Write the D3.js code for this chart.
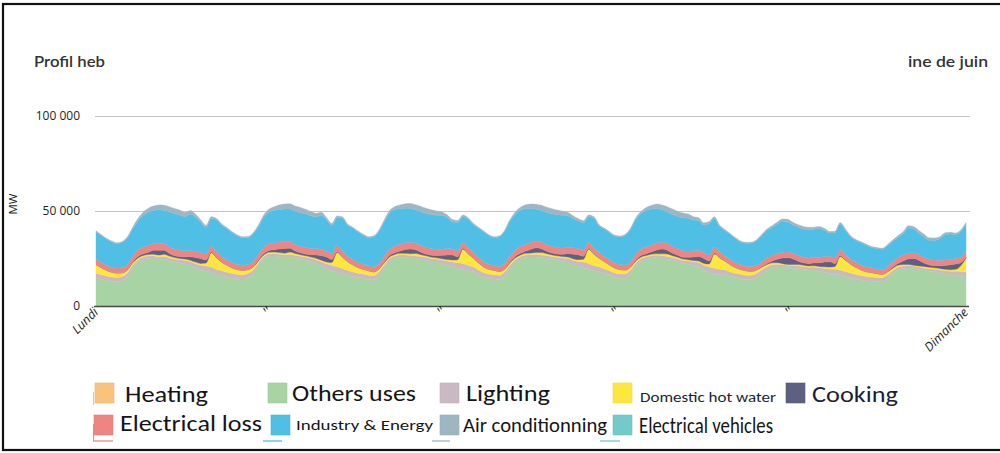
<!DOCTYPE html>
<html><head><meta charset="utf-8">
<script src="https://cdn.jsdelivr.net/npm/d3@7"></script>
<style>body{margin:0;background:#fff;} svg{display:block;}</style>
</head><body><svg id="c" width="1000" height="453"></svg>
<script>
// ---------- DATA (thousands of MW, hourly, Monday 0h -> Sunday 22h) ----------
const others = [
14.6,14.0,13.5,13.0,12.8,13.3,15.5,20.0,23.0,24.5,25.0,25.2,24.5,24.7,24.0,23.3,22.8,22.3,21.5,20.2,19.0,18.3,17.6,16.5,
15.9,15.3,14.8,14.4,14.2,15.0,17.0,21.0,24.5,26.2,26.3,26.0,25.5,25.8,25.3,24.8,24.2,23.4,22.5,21.2,19.8,18.6,17.8,17.0,
16.2,15.5,15.0,14.6,14.0,13.8,16.0,20.0,23.5,25.0,25.6,25.6,25.2,25.0,24.7,24.2,23.5,23.0,22.3,21.6,20.8,20.0,19.5,18.7,
18.0,16.5,15.2,14.6,14.2,14.0,16.0,20.0,23.0,24.8,25.6,25.8,25.8,25.5,25.2,24.7,24.2,23.6,23.2,22.0,21.0,20.3,19.5,18.5,
18.0,17.2,16.3,15.2,14.6,14.8,17.0,21.0,23.5,24.5,25.2,25.4,25.2,24.8,24.2,23.5,22.5,22.0,21.4,20.8,19.0,17.8,17.0,16.6,
16.5,15.6,15.0,14.5,14.0,14.0,15.0,17.0,19.0,20.3,20.7,20.5,20.2,20.0,19.8,19.4,19.0,18.9,18.3,17.8,17.2,16.7,16.3,15.5,
14.8,14.2,13.7,13.3,13.0,12.8,12.8,14.5,17.0,19.0,19.8,20.0,19.8,19.3,18.8,18.3,18.0,17.4,16.8,16.3,16.0,15.6,15.3];
const lighting = [
2.6,2.4,2.3,2.2,2.2,2.2,2.0,1.6,1.4,1.3,1.3,1.3,1.3,1.3,1.3,1.4,1.5,1.7,1.9,2.1,2.4,2.8,2.9,2.8,
2.6,2.4,2.3,2.2,2.2,2.2,2.0,1.6,1.4,1.3,1.3,1.3,1.3,1.3,1.3,1.4,1.5,1.7,1.9,2.1,2.4,2.8,2.9,2.8,
2.6,2.4,2.3,2.2,2.2,2.2,2.0,1.6,1.4,1.3,1.3,1.3,1.3,1.3,1.3,1.4,1.5,1.7,1.9,2.1,2.4,2.8,2.9,2.8,
2.6,2.4,2.3,2.2,2.2,2.2,2.0,1.6,1.4,1.3,1.3,1.3,1.3,1.3,1.3,1.4,1.5,1.7,1.9,2.1,2.4,2.8,2.9,2.8,
2.6,2.4,2.3,2.2,2.2,2.2,2.0,1.6,1.4,1.3,1.3,1.3,1.3,1.3,1.3,1.4,1.5,1.7,1.9,2.1,2.4,2.8,2.9,2.8,
2.6,2.4,2.3,2.2,2.2,2.2,2.1,1.9,1.6,1.4,1.3,1.2,1.2,1.2,1.2,1.3,1.4,1.6,1.8,2.0,2.3,2.6,2.6,2.6,
2.6,2.4,2.3,2.2,2.2,2.2,2.1,1.9,1.6,1.4,1.3,1.2,1.2,1.2,1.2,1.3,1.4,1.6,1.8,2.0,2.3,2.6,2.6];
const hotWater = [
4.6,3.8,3.0,2.6,2.4,2.0,1.5,1.1,0.9,0.8,0.8,0.8,1.0,1.3,1.0,0.8,0.7,0.7,0.7,0.8,1.0,1.5,7.5,6.0,
4.6,3.8,3.0,2.6,2.4,2.0,1.5,1.1,0.9,0.8,0.8,0.8,1.0,1.3,1.0,0.8,0.7,0.7,0.7,0.8,1.0,1.5,7.5,6.0,
4.6,3.8,3.0,2.6,2.4,2.0,1.5,1.1,0.9,0.8,0.8,0.8,1.0,1.3,1.0,0.8,0.7,0.7,0.7,0.8,1.0,1.5,7.5,6.0,
4.6,3.8,3.0,2.6,2.4,2.0,1.5,1.1,0.9,0.8,0.8,0.8,1.0,1.3,1.0,0.8,0.7,0.7,0.7,0.8,1.0,1.5,7.5,6.0,
4.6,3.8,3.0,2.6,2.4,2.0,1.5,1.1,0.9,0.8,0.8,0.8,1.0,1.3,1.0,0.8,0.7,0.7,0.7,0.8,1.0,1.5,7.5,6.0,
4.6,3.8,3.0,2.6,2.4,2.1,1.8,1.5,1.2,1.0,0.8,0.6,0.5,0.6,0.8,0.8,0.7,0.7,0.7,0.8,1.0,1.5,7.2,6.0,
4.6,3.8,3.0,2.6,2.4,2.1,1.8,1.5,1.2,1.0,0.8,0.6,0.5,0.6,0.8,0.8,0.7,0.7,0.7,0.8,1.0,3.0,7.2];
const cooking = [
0,0,0,0,0,0,0.2,0.6,0.8,0.9,1.2,2.0,2.5,2.0,1.3,1.0,1.0,1.2,1.8,2.4,2.6,1.6,0.5,0.2,
0,0,0,0,0,0,0.2,0.6,0.8,0.9,1.2,2.0,2.5,2.0,1.3,1.0,1.0,1.2,1.8,2.4,2.6,1.6,0.5,0.2,
0,0,0,0,0,0,0.2,0.6,0.8,0.9,1.2,2.0,2.5,2.0,1.3,1.0,1.0,1.2,1.8,2.4,2.6,1.6,0.5,0.2,
0,0,0,0,0,0,0.2,0.6,0.8,0.9,1.2,2.0,2.5,2.0,1.3,1.0,1.0,1.2,1.8,2.4,2.6,1.6,0.5,0.2,
0,0,0,0,0,0,0.2,0.6,0.8,0.9,1.2,2.0,2.5,2.0,1.3,1.0,1.0,1.2,1.8,2.4,2.6,1.6,0.5,0.2,
0,0,0,0,0,0,0,0.2,0.6,1.0,1.8,3.0,3.5,3.0,1.8,1.2,1.2,1.5,2.0,2.6,2.8,1.6,0.5,0.2,
0,0,0,0,0,0,0,0.2,0.6,1.0,1.8,3.0,3.5,3.0,1.8,1.2,1.2,1.5,2.0,2.6,2.8,1.6,0.5];
const elecLoss = [
2.9,2.8,2.7,2.6,2.6,2.6,2.7,3.0,3.3,3.5,3.6,3.6,3.6,3.6,3.5,3.5,3.4,3.3,3.3,3.3,3.2,3.1,3.2,3.1,
2.9,2.8,2.7,2.6,2.6,2.6,2.7,3.0,3.3,3.5,3.6,3.6,3.6,3.6,3.5,3.5,3.4,3.3,3.3,3.3,3.2,3.1,3.2,3.1,
2.9,2.8,2.7,2.6,2.6,2.6,2.7,3.0,3.3,3.5,3.6,3.6,3.6,3.6,3.5,3.5,3.4,3.3,3.3,3.3,3.2,3.1,3.2,3.1,
2.9,2.8,2.7,2.6,2.6,2.6,2.7,3.0,3.3,3.5,3.6,3.6,3.6,3.6,3.5,3.5,3.4,3.3,3.3,3.3,3.2,3.1,3.2,3.1,
2.9,2.8,2.7,2.6,2.6,2.6,2.7,3.0,3.3,3.5,3.6,3.6,3.6,3.6,3.5,3.5,3.4,3.3,3.3,3.3,3.2,3.1,3.2,3.1,
2.8,2.7,2.6,2.5,2.5,2.5,2.5,2.6,2.8,3.0,3.0,3.0,3.0,3.0,3.0,2.9,2.9,2.9,2.9,2.9,2.9,2.9,3.0,3.0,
2.8,2.7,2.6,2.5,2.5,2.5,2.5,2.6,2.8,3.0,3.0,3.0,3.0,3.0,3.0,2.9,2.9,2.9,2.9,2.9,2.9,2.9,3.0];
const industry = [
14.3,14.1,13.6,13.3,12.8,13.4,14.0,14.4,15.4,16.7,17.6,17.3,17.7,17.3,18.4,18.6,18.6,17.8,19.2,18.0,15.9,14.2,14.4,16.8,
16.6,16.4,15.8,15.1,14.6,14.3,14.6,14.5,15.8,16.6,17.1,17.1,17.2,17.0,17.4,17.7,17.6,17.2,16.8,18.0,16.3,14.9,14.6,17.2,
16.3,16.5,16.0,15.3,14.8,15.9,17.0,18.2,19.1,19.2,18.7,18.1,17.8,17.3,17.8,17.8,18.0,17.9,17.7,16.3,14.3,15.0,13.4,15.0,
14.8,15.5,15.8,15.0,14.6,15.7,17.0,18.4,18.9,19.1,18.8,17.8,16.7,16.5,16.9,17.1,17.2,17.2,16.6,15.4,14.6,14.6,13.4,15.7,
14.1,14.3,14.3,14.2,14.6,15.7,17.0,18.4,18.7,19.3,18.9,18.2,17.0,16.5,16.9,16.9,17.3,17.3,16.1,15.6,14.4,16.7,15.0,13.1,
13.2,13.2,12.6,11.9,11.9,12.3,12.9,13.8,14.6,14.7,15.5,16.3,15.9,14.8,14.8,14.9,15.0,14.8,15.1,13.8,12.2,13.2,13.6,12.6,
11.6,11.4,11.7,11.4,10.7,10.7,10.7,11.0,10.8,10.7,11.3,13.3,12.5,11.3,10.8,10.1,10.4,11.3,13.3,13.3,12.6,13.5,14.6];
const airCond = [
0.6,0.5,0.5,0.5,0.5,0.5,0.6,0.8,1.2,1.6,2.0,2.4,2.6,2.8,2.8,2.7,2.5,2.2,1.8,1.5,1.2,1.0,0.9,0.7,
0.6,0.5,0.5,0.5,0.5,0.5,0.6,0.8,1.2,1.6,2.0,2.4,2.6,2.8,2.8,2.7,2.5,2.2,1.8,1.5,1.2,1.0,0.9,0.7,
0.6,0.5,0.5,0.5,0.5,0.5,0.6,0.8,1.2,1.6,2.0,2.4,2.6,2.8,2.8,2.7,2.5,2.2,1.8,1.5,1.2,1.0,0.9,0.7,
0.6,0.5,0.5,0.5,0.5,0.5,0.6,0.8,1.2,1.6,2.0,2.4,2.6,2.8,2.8,2.7,2.5,2.2,1.8,1.5,1.2,1.0,0.9,0.7,
0.6,0.5,0.5,0.5,0.5,0.5,0.6,0.8,1.2,1.6,2.0,2.4,2.6,2.8,2.8,2.7,2.5,2.2,1.8,1.5,1.2,1.0,0.9,0.7,
0.6,0.5,0.5,0.5,0.5,0.5,0.5,0.6,0.7,0.9,1.1,1.2,1.3,1.4,1.4,1.3,1.2,1.1,1.0,0.9,0.8,0.8,0.7,0.6,
0.6,0.5,0.5,0.5,0.5,0.5,0.5,0.6,0.7,0.9,1.1,1.2,1.3,1.4,1.4,1.3,1.2,1.1,1.0,0.9,0.8,0.8,0.7];

const xTickLabels = ["Lundi","''","''","''","''","Dimanche"];
const yTickValues = [0, 50, 100];
const yTickLabels = ["0","50 000","100 000"];
const titleLeft = "Profil heb";
const titleRight = "ine de juin";
const yTitle = "MW";

const stackKeys = ["others","lighting","hotWater","cooking","elecLoss","industry","airCond"];
const seriesArrays = {others, lighting, hotWater, cooking, elecLoss, industry, airCond};
const colors = {
  heating:"#F9C27D", others:"#A8D3A5", lighting:"#C9B9C3", hotWater:"#FDE73F",
  cooking:"#5E6082", elecLoss:"#EE8583", industry:"#4FBFE5", airCond:"#9EB6C4", ev:"#73CACA"
};
const legendRow1 = [
  {name:"Heating", key:"heating"}, {name:"Others uses", key:"others"}, {name:"Lighting", key:"lighting"},
  {name:"Domestic hot water", key:"hotWater"}, {name:"Cooking", key:"cooking"}];
const legendRow2 = [
  {name:"Electrical loss", key:"elecLoss"}, {name:"Industry & Energy", key:"industry"},
  {name:"Air conditionning", key:"airCond"}, {name:"Electrical vehicles", key:"ev"}];

// ---------- DRAW ----------
const svg = d3.select("#c");
const n = others.length;
const rows = d3.range(n).map(i => {
  const r = {i};
  stackKeys.forEach(k => r[k] = seriesArrays[k][i]);
  return r;
});

const x = d3.scaleLinear().domain([0, n-1]).range([96, 966]);
const y = d3.scaleLinear().domain([0, 100]).range([306, 116]);

// frame
svg.append("rect").attr("x",3).attr("y",4).attr("width",1010).attr("height",446)
  .attr("fill","none").attr("stroke","#111").attr("stroke-width",2.2);

// titles
svg.append("text").attr("x",34).attr("y",67).text(titleLeft)
  .attr("font-family","Lato, 'Open Sans', sans-serif").attr("font-size",15).attr("font-weight",600)
  .attr("fill","#333").attr("textLength",71).attr("lengthAdjust","spacingAndGlyphs");
svg.append("text").attr("x",908).attr("y",67).text(titleRight)
  .attr("font-family","Lato, 'Open Sans', sans-serif").attr("font-size",15).attr("font-weight",600)
  .attr("fill","#333").attr("textLength",80).attr("lengthAdjust","spacingAndGlyphs");

// gridlines
svg.append("g").selectAll("line").data(yTickValues.filter(v=>v>0)).join("line")
  .attr("x1",95).attr("x2",970).attr("y1",d=>y(d)+0.5).attr("y2",d=>y(d)+0.5)
  .attr("stroke","#c4c4c4").attr("stroke-width",1.2);

// y tick labels
svg.append("g").selectAll("text").data(yTickValues).join("text")
  .attr("x",80).attr("y",d=>y(d)).attr("dy","0.35em").attr("text-anchor","end")
  .attr("font-family","'Open Sans', sans-serif").attr("font-size",12).attr("fill","#1e1e1e")
  .text((d,i)=>yTickLabels[i]);

svg.append("text").attr("transform","translate(17,204) rotate(-90)").attr("text-anchor","middle")
  .attr("font-family","'Open Sans', sans-serif").attr("font-size",11.5).attr("fill","#1e1e1e").text(yTitle);

// stacked areas
const stack = d3.stack().keys(stackKeys);
const layers = stack(rows);
const area = d3.area().x(d=>x(d.data.i)).y0(d=>y(d[0])).y1(d=>y(d[1])).curve(d3.curveMonotoneX);
svg.append("g").selectAll("path").data(layers).join("path")
  .attr("d", area).attr("fill", d=>colors[d.key]).attr("stroke", d=>colors[d.key]).attr("stroke-width",0.4);

// x axis line
svg.append("line").attr("x1",94).attr("x2",969).attr("y1",306.5).attr("y2",306.5)
  .attr("stroke","#4a4a4a").attr("stroke-width",1.6);

// x tick labels
const tickPos = xTickLabels.map((_,k)=> k*(n-1)/(xTickLabels.length-1));
svg.append("g").selectAll("text").data(xTickLabels).join("text")
  .attr("transform",(d,k)=>`translate(${x(tickPos[k])+3},${313}) rotate(-45)`)
  .attr("text-anchor","end").attr("font-family","'Open Sans', sans-serif").attr("font-style","italic")
  .attr("font-size",d=>d==="''"?14:12.5).attr("fill","#1e1e1e").text(d=>d);

// legend
const legendFont = "Carlito, 'Open Sans', 'Noto Sans', sans-serif";
const row1 = [
  {sx:95, tx:125, tw:83, fs:22, base:402},
  {sx:268, tx:292, tw:124, fs:22, base:401},
  {sx:440, tx:466, tw:84, fs:22, base:401},
  {sx:613, tx:640, tw:136, fs:14.5, base:402},
  {sx:786, tx:812, tw:86, fs:23, base:402}];
const row2 = [
  {sx:94, tx:120, tw:142, fs:22, base:431},
  {sx:271, tx:296, tw:137, fs:14.5, base:430},
  {sx:440, tx:463, tw:144, fs:21, base:432},
  {sx:613, tx:639, tw:134, fs:22, base:433}];
const lg = svg.append("g");
function drawRow(items, pos, sy, sh){
  items.forEach((it,k)=>{
    const p = pos[k];
    lg.append("rect").attr("x",p.sx).attr("y",sy).attr("width",19).attr("height",sh)
      .attr("fill",colors[it.key]).attr("stroke",d3.color(colors[it.key]).darker(0.15)).attr("stroke-width",0.6);
    lg.append("text").attr("x",p.tx).attr("y",p.base).text(it.name)
      .attr("font-family",legendFont).attr("font-size",p.fs)
      .attr("fill", it.key==="hotWater"||it.key==="cooking" ? "#1b1f33" : "#151515")
      .attr("font-weight", 400)
      .attr("textLength",p.tw).attr("lengthAdjust","spacingAndGlyphs");
  });
}
drawRow(legendRow1, row1, 383, 20);
drawRow(legendRow2, row2, 415, 20);
// small underline remnants below row 2
const remnants = [
  {x1:93, x2:113, key:"elecLoss"}, {x1:263, x2:282, key:"industry"},
  {x1:432, x2:450, key:"airCond"}, {x1:600, x2:620, key:"ev"}];
lg.selectAll("line.rem").data(remnants).join("line")
  .attr("x1",d=>d.x1).attr("x2",d=>d.x2).attr("y1",441).attr("y2",441)
  .attr("stroke",d=>colors[d.key]).attr("stroke-width",1.3);
lg.append("line").attr("x1",93.5).attr("x2",93.5).attr("y1",424).attr("y2",441)
  .attr("stroke",colors.elecLoss).attr("stroke-width",1);
lg.append("line").attr("x1",93.5).attr("x2",93.5).attr("y1",392).attr("y2",405)
  .attr("stroke",colors.heating).attr("stroke-width",1);
</script>
</body></html>
